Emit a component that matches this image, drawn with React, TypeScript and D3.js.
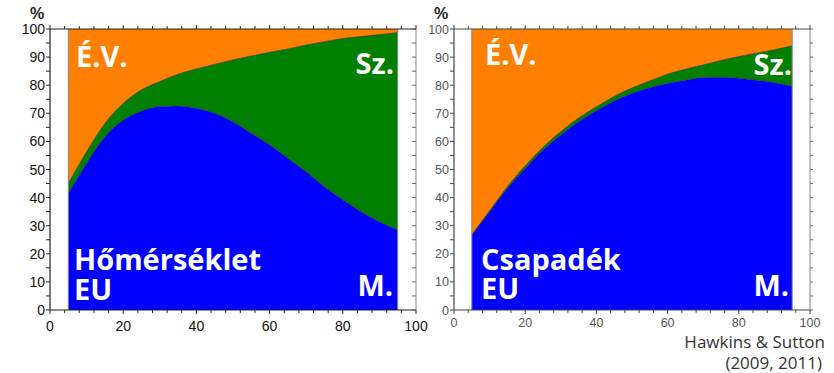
import React from "react";
import * as d3 from "d3";

// ---- data (percent of total uncertainty) ----
const years = [5, 10, 15, 20, 25, 30, 35, 40, 45, 50, 55, 60, 65, 70, 75, 80, 85, 90, 95];
// Hőmérséklet (temperature), EU
const tempModel = [41.5, 52.2, 61.7, 67.6, 70.8, 72.4, 72.6, 71.8, 70.0, 67.0, 62.9, 58.8, 54.0, 49.2, 43.9, 39.2, 35.0, 31.4, 28.5];
const tempScenario = [3.5, 4.1, 4.7, 5.9, 7.5, 8.9, 11.3, 14.0, 17.4, 22.0, 27.5, 32.9, 38.9, 45.1, 51.6, 57.4, 62.3, 66.6, 70.2];
// Csapadék (precipitation), EU
const precModel = [26.7, 35.0, 43.3, 50.4, 56.9, 62.3, 67.0, 70.9, 74.4, 77.1, 79.1, 80.7, 81.8, 82.7, 82.8, 82.5, 81.8, 80.9, 79.7];
const precScenario = [0.0, 0.3, 0.6, 0.9, 1.0, 1.2, 1.3, 1.4, 1.6, 1.9, 2.4, 3.2, 3.9, 4.5, 6.0, 7.7, 9.6, 11.7, 14.3];

const xTicks = [0, 20, 40, 60, 80, 100];
const yTicks = [0, 10, 20, 30, 40, 50, 60, 70, 80, 90, 100];

const COL_M = "#0000FF";
const COL_SZ = "#007F00";
const COL_EV = "#FF8000";

type PanelProps = {
  left: number;
  right: number;
  model: number[];
  scenario: number[];
  title: string;
  axisColor: string;
  labelColor: string;
  labelSize: number;
  xLabelBase: number;
  innerRightTicks: boolean;
  pctX: number;
  ev: [number, number];
  sz: [number, number];
  t1: [number, number];
  t2: [number, number];
  m: [number, number];
};

const TOP = 29;
const BOTTOM = 310;

function Panel(p: PanelProps) {
  const x = d3.scaleLinear().domain([0, 100]).range([p.left, p.right]);
  const y = d3.scaleLinear().domain([0, 100]).range([BOTTOM, TOP]);
  const rows = years.map((yr, i) => ({ yr, m: p.model[i], s: p.scenario[i] }));
  const curve = d3.curveMonotoneX;
  const areaM = d3.area<any>().x((d) => x(d.yr)).y0(() => y(0)).y1((d) => y(d.m)).curve(curve);
  const areaS = d3.area<any>().x((d) => x(d.yr)).y0((d) => y(d.m)).y1((d) => y(d.m + d.s)).curve(curve);
  const areaE = d3.area<any>().x((d) => x(d.yr)).y0((d) => y(d.m + d.s)).y1(() => y(100)).curve(curve);
  const lineM = d3.line<any>().x((d) => x(d.yr)).y((d) => y(d.m)).curve(curve);
  const lineS = d3.line<any>().x((d) => x(d.yr)).y((d) => y(d.m + d.s)).curve(curve);
  const minorX = d3.range(0, 101, 4);
  const minorY = d3.range(0, 101, 5);
  const ff = "'Liberation Sans', Arial, sans-serif";
  const big = "'Open Sans', sans-serif";
  const x5 = x(5);
  const x95 = x(95);
  return (
    <g>
      <path d={areaE(rows) || ""} fill={COL_EV} />
      <path d={areaS(rows) || ""} fill={COL_SZ} />
      <path d={areaM(rows) || ""} fill={COL_M} />
      <path d={lineS(rows) || ""} fill="none" stroke="#333" strokeWidth={0.7} />
      <path d={lineM(rows) || ""} fill="none" stroke="#333" strokeWidth={0.7} />
      <line x1={x5} x2={x5} y1={y(100)} y2={y(0)} stroke="#888" strokeWidth={1} />
      <line x1={x95} x2={x95} y1={y(100)} y2={y(0)} stroke="#888" strokeWidth={1} />
      {/* frame */}
      <line x1={p.left} x2={p.left} y1={TOP} y2={BOTTOM} stroke={p.axisColor} strokeWidth={1.2} />
      <line x1={p.right} x2={p.right} y1={TOP} y2={BOTTOM} stroke="#999" strokeWidth={1.2} />
      <line x1={p.left} x2={p.right} y1={TOP} y2={TOP} stroke={p.axisColor} strokeWidth={1.2} />
      <line x1={p.left} x2={p.right} y1={BOTTOM} y2={BOTTOM} stroke={p.axisColor} strokeWidth={1.2} />
      {minorY.map((v) => (
        <g key={"y" + v}>
          <line x1={p.left - 4} x2={p.left} y1={y(v)} y2={y(v)} stroke={p.axisColor} strokeWidth={1} />
          <line
            x1={p.right}
            x2={p.innerRightTicks ? p.right - 4 : p.right + 3}
            y1={y(v)}
            y2={y(v)}
            stroke="#666"
            strokeWidth={1}
          />
        </g>
      ))}
      {minorX.map((v) => (
        <g key={"x" + v}>
          <line x1={x(v)} x2={x(v)} y1={BOTTOM} y2={BOTTOM + (v % 20 === 0 ? 4 : 3)} stroke={p.axisColor} strokeWidth={1} />
          <line x1={x(v)} x2={x(v)} y1={TOP} y2={TOP - (v % 20 === 0 ? 4 : 3)} stroke={p.axisColor} strokeWidth={1} />
        </g>
      ))}
      {yTicks.map((v) => (
        <text
          key={"yl" + v}
          x={p.left - 5}
          y={y(v)}
          dy="0.36em"
          textAnchor="end"
          fontFamily={ff}
          fontSize={p.labelSize}
          fill={p.labelColor}
        >
          {v}
        </text>
      ))}
      {xTicks.map((v) => (
        <text
          key={"xl" + v}
          x={x(v)}
          y={p.xLabelBase}
          textAnchor="middle"
          fontFamily={ff}
          fontSize={p.labelSize}
          fill={p.labelColor}
        >
          {v}
        </text>
      ))}
      <text x={p.pctX} y={19} fontFamily={ff} fontWeight="bold" fontSize={16} fill="#222">
        %
      </text>
      <g fontFamily={big} fontWeight={700} fontSize={29} fill="#fff">
        <text x={p.ev[0]} y={p.ev[1]}>É.V.</text>
        <text x={p.sz[0]} y={p.sz[1]} textAnchor="end">Sz.</text>
        <text x={p.t1[0]} y={p.t1[1]}>{p.title}</text>
        <text x={p.t2[0]} y={p.t2[1]}>EU</text>
        <text x={p.m[0]} y={p.m[1]} textAnchor="end">M.</text>
      </g>
    </g>
  );
}

export default function App() {
  return (
    <svg width={834} height={373} style={{ position: "absolute", left: 0, top: 0, background: "#fff" }}>
      <Panel
        left={50}
        right={416}
        model={tempModel}
        scenario={tempScenario}
        title="Hőmérséklet"
        axisColor="#222"
        labelColor="#111"
        labelSize={14}
        xLabelBase={331}
        innerRightTicks={true}
        pctX={30}
        ev={[76, 67]}
        sz={[394, 74]}
        t1={[74, 270]}
        t2={[74, 300]}
        m={[393, 296]}
      />
      <Panel
        left={454}
        right={810}
        model={precModel}
        scenario={precScenario}
        title="Csapadék"
        axisColor="#444"
        labelColor="#555"
        labelSize={12.5}
        xLabelBase={327}
        innerRightTicks={false}
        pctX={434}
        ev={[485, 65]}
        sz={[792, 75]}
        t1={[481, 270]}
        t2={[481, 299]}
        m={[789, 296]}
      />
      <g fontFamily="'Open Sans', sans-serif" fontSize={17} fill="#333" textAnchor="end">
        <text x={825} y={348}>Hawkins &amp; Sutton</text>
        <text x={822} y={369}>(2009, 2011)</text>
      </g>
    </svg>
  );
}
